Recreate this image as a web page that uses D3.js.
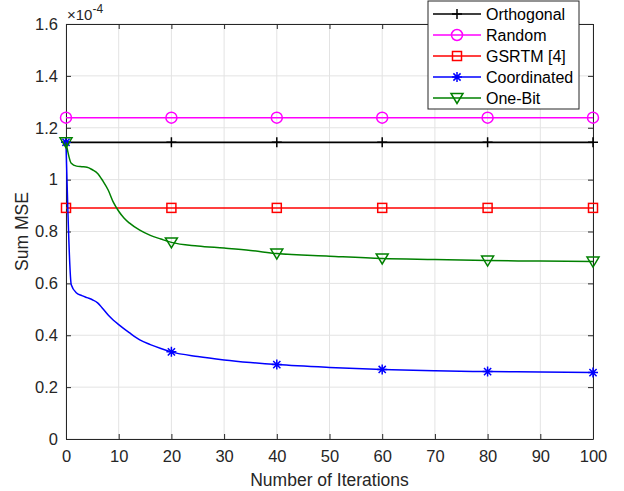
<!DOCTYPE html>
<html>
<head>
<meta charset="utf-8">
<script src="https://cdn.jsdelivr.net/npm/d3@7"></script>
<style>
  body { margin: 0; background: #fff; }
  svg { font-family: "Liberation Sans", Arial, sans-serif; }
</style>
</head>
<body>
<div id="chart"></div>
<script>
// iterations where markers are drawn
const markerIters = [0, 20, 40, 60, 80, 100];

// curve samples (iteration, sum MSE in units of 1e-4)
const orthogonal = [[0, 1.144], [100, 1.144]];
const random = [[0, 1.239], [100, 1.239]];
const gsrtm = [[0, 0.891], [100, 0.891]];
const coordinated = [
  [0, 1.144], [1, 0.595], [2, 0.563], [3, 0.553], [4, 0.545], [5, 0.537], [6, 0.525],
  [7, 0.502], [8, 0.478], [9, 0.458], [10, 0.441], [12, 0.41], [14, 0.382],
  [16, 0.364], [18, 0.349], [20, 0.336], [25, 0.318], [30, 0.305], [35, 0.295],
  [40, 0.287], [50, 0.276], [60, 0.268], [70, 0.263], [80, 0.26], [90, 0.258], [100, 0.256]
];
const oneBit = [
  [0, 1.144], [1, 1.063], [2, 1.052], [3, 1.05], [4, 1.048], [5, 1.038], [6, 1.024],
  [7, 0.995], [8, 0.96], [9, 0.912], [10, 0.878], [11, 0.852], [12, 0.833],
  [14, 0.805], [16, 0.785], [18, 0.771], [20, 0.758], [25, 0.744], [30, 0.736],
  [35, 0.727], [40, 0.715], [50, 0.705], [60, 0.696], [70, 0.692], [80, 0.688], [90, 0.686], [100, 0.684]
];

const series = [
  { name: "Orthogonal", color: "#000000", marker: "plus", data: orthogonal },
  { name: "Random", color: "#ff00ff", marker: "circle", data: random },
  { name: "GSRTM [4]", color: "#ff0000", marker: "square", data: gsrtm },
  { name: "Coordinated", color: "#0000ff", marker: "star", data: coordinated },
  { name: "One-Bit", color: "#008000", marker: "triangle", data: oneBit }
];

const xTicks = d3.range(0, 101, 10);
const yTicks = [0, 0.2, 0.4, 0.6, 0.8, 1, 1.2, 1.4, 1.6];

const width = 624, height = 491;
const margin = { left: 66, right: 31, top: 24, bottom: 52 };

const svg = d3.select("#chart").append("svg")
  .attr("width", width).attr("height", height);

const x = d3.scaleLinear().domain([0, 100]).range([margin.left, width - margin.right]);
const y = d3.scaleLinear().domain([0, 1.6]).range([height - margin.bottom, margin.top]);

const axisColor = "#262626";

// grid
svg.append("g").selectAll("line").data(xTicks).join("line")
  .attr("x1", d => x(d)).attr("x2", d => x(d))
  .attr("y1", y(0)).attr("y2", y(1.6))
  .attr("stroke", "#e3e3e3").attr("stroke-width", 1);
svg.append("g").selectAll("line").data(yTicks).join("line")
  .attr("x1", x(0)).attr("x2", x(100))
  .attr("y1", d => y(d)).attr("y2", d => y(d))
  .attr("stroke", "#e3e3e3").attr("stroke-width", 1);

// axes (ticks inside)
const fmtY = d => d === 0 ? "0" : d3.format("")(+d.toFixed(1));
svg.append("g").attr("transform", `translate(0,${y(0)})`)
  .call(d3.axisBottom(x).tickValues(xTicks).tickSizeInner(-5).tickSizeOuter(0).tickPadding(11))
  .call(g => g.select(".domain").attr("stroke", axisColor))
  .call(g => g.selectAll("line").attr("stroke", axisColor))
  .call(g => g.selectAll("text").attr("fill", axisColor).style("font-size", "16.5px"));
svg.append("g").attr("transform", `translate(0,${y(1.6)})`)
  .call(d3.axisTop(x).tickValues(xTicks).tickSizeInner(-5).tickSizeOuter(0).tickFormat(""))
  .call(g => g.select(".domain").attr("stroke", axisColor))
  .call(g => g.selectAll("line").attr("stroke", axisColor));
svg.append("g").attr("transform", `translate(${x(0)},0)`)
  .call(d3.axisLeft(y).tickValues(yTicks).tickSizeInner(-5).tickSizeOuter(0).tickPadding(8).tickFormat(fmtY))
  .call(g => g.select(".domain").attr("stroke", axisColor))
  .call(g => g.selectAll("line").attr("stroke", axisColor))
  .call(g => g.selectAll("text").attr("fill", axisColor).style("font-size", "16.5px"));
svg.append("g").attr("transform", `translate(${x(100)},0)`)
  .call(d3.axisRight(y).tickValues(yTicks).tickSizeInner(-5).tickSizeOuter(0).tickFormat(""))
  .call(g => g.select(".domain").attr("stroke", axisColor))
  .call(g => g.selectAll("line").attr("stroke", axisColor));

// exponent label
const expo = svg.append("text").attr("x", x(0) + 1).attr("y", margin.top - 4)
  .attr("fill", axisColor).style("font-size", "15px");
expo.append("tspan").text("\u00d710");
expo.append("tspan").attr("dy", -7).style("font-size", "12px").text("-4");

// axis titles
svg.append("text").attr("x", (x(0) + x(100)) / 2).attr("y", height - 5)
  .attr("text-anchor", "middle").attr("fill", axisColor).style("font-size", "17.5px")
  .text("Number of Iterations");
svg.append("text")
  .attr("transform", `translate(28,${(y(0) + y(1.6)) / 2}) rotate(-90)`)
  .attr("text-anchor", "middle").attr("fill", axisColor).style("font-size", "17.5px")
  .text("Sum MSE");

// marker drawing
function drawMarker(g, type, color) {
  if (type === "plus") {
    g.append("path").attr("d", "M-5,0H5M0,-5V5").attr("stroke", color).attr("stroke-width", 1.5).attr("fill", "none");
  } else if (type === "circle") {
    g.append("circle").attr("r", 5.5).attr("stroke", color).attr("stroke-width", 1.5).attr("fill", "none");
  } else if (type === "square") {
    g.append("rect").attr("x", -4.5).attr("y", -4.5).attr("width", 9).attr("height", 9)
      .attr("stroke", color).attr("stroke-width", 1.5).attr("fill", "none");
  } else if (type === "star") {
    g.append("path").attr("d", "M-5,0H5M0,-5V5M-3.6,-3.6L3.6,3.6M-3.6,3.6L3.6,-3.6")
      .attr("stroke", color).attr("stroke-width", 1.5).attr("fill", "none");
  } else if (type === "triangle") {
    g.append("path").attr("d", "M-6,-4.5L6,-4.5L0,5.5Z")
      .attr("stroke", color).attr("stroke-width", 1.5).attr("fill", "none");
  }
}

const line = d3.line().x(d => x(d[0])).y(d => y(d[1])).curve(d3.curveMonotoneX);
const valueAt = (data, it) => {
  const i = data.findIndex(d => d[0] === it);
  if (i >= 0) return data[i][1];
  const b = d3.bisector(d => d[0]).left(data, it);
  const a0 = data[b - 1], a1 = data[b];
  return a0[1] + (a1[1] - a0[1]) * (it - a0[0]) / (a1[0] - a0[0]);
};

series.forEach(s => {
  svg.append("path").datum(s.data).attr("d", line)
    .attr("fill", "none").attr("stroke", s.color).attr("stroke-width", s.marker === "plus" ? 1.8 : 1.5);
  markerIters.forEach(it => {
    const g = svg.append("g").attr("transform", `translate(${x(it)},${y(valueAt(s.data, it))})`);
    drawMarker(g, s.marker, s.color);
  });
});

// legend
const lg = svg.append("g").attr("transform", "translate(428,1)");
lg.append("rect").attr("width", 151).attr("height", 108)
  .attr("fill", "#fff").attr("stroke", axisColor).attr("stroke-width", 1);
series.forEach((s, i) => {
  const row = lg.append("g").attr("transform", `translate(0,${13 + i * 21})`);
  row.append("line").attr("x1", 5).attr("x2", 53).attr("stroke", s.color).attr("stroke-width", 1.5);
  drawMarker(row.append("g").attr("transform", "translate(29,0)"), s.marker, s.color);
  row.append("text").attr("x", 58).attr("y", 6).attr("fill", "#000").style("font-size", "16px").text(s.name);
});
</script>
</body>
</html>
